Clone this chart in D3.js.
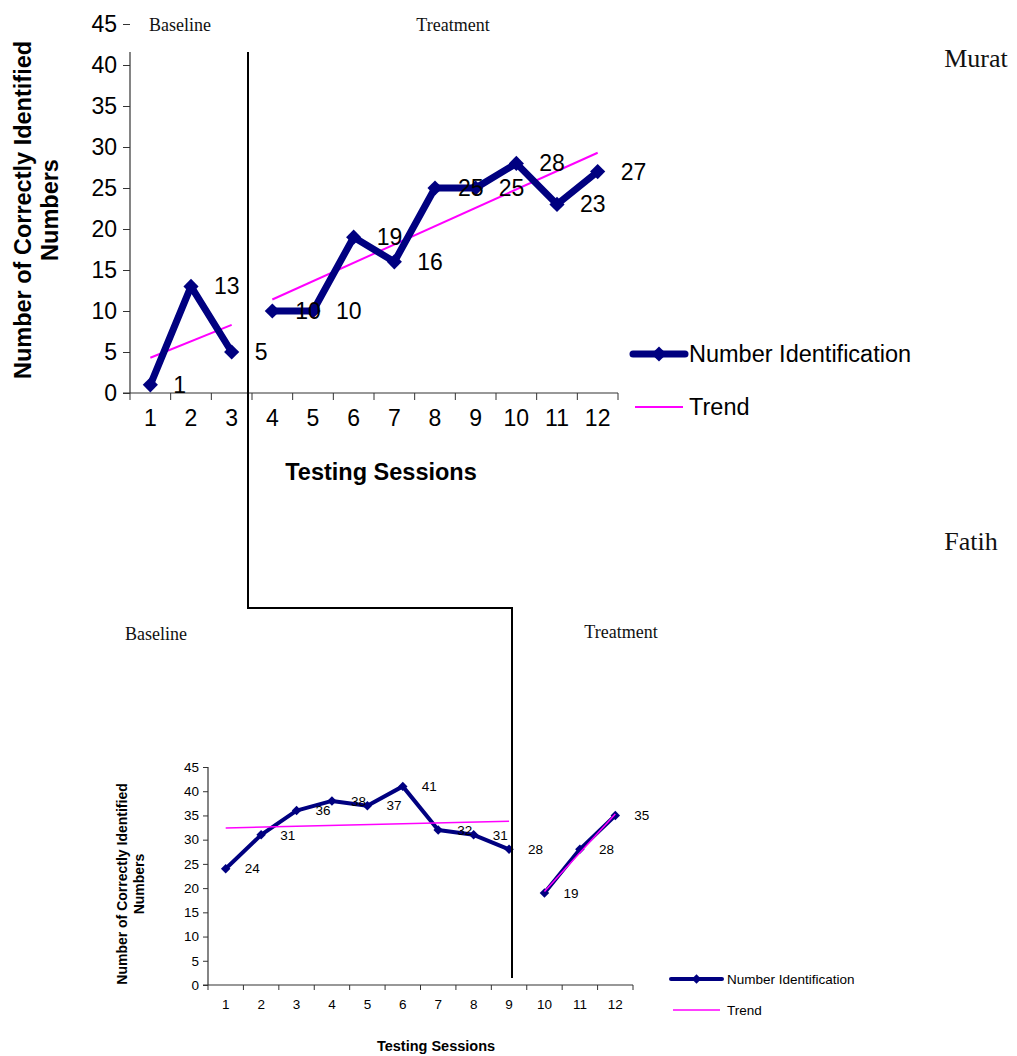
<!DOCTYPE html>
<html><head><meta charset="utf-8">
<script src="https://cdn.jsdelivr.net/npm/d3@7"></script>
<style>
html,body{margin:0;padding:0;background:#fff;}
svg{display:block;}
.sans{font-family:"Liberation Sans",Arial,sans-serif;}
.serif{font-family:"Liberation Serif","Times New Roman",serif;}
</style></head>
<body>
<svg id="c" width="1017" height="1056"></svg>
<script>
// ---- data ----
const sessions = [1,2,3,4,5,6,7,8,9,10,11,12];
const yTicks = [0,5,10,15,20,25,30,35,40,45];

// Murat (top chart)
const muratBaseSessions = [1,2,3];
const muratBaseValues = [1,13,5];
const muratTreatSessions = [4,5,6,7,8,9,10,11,12];
const muratTreatValues = [10,10,19,16,25,25,28,23,27];
const muratBaseTrendSessions = [1,3];
const muratBaseTrend = [4.3,8.3];
const muratTreatTrendSessions = [4,12];
const muratTreatTrend = [11.4,29.3];

// Fatih (bottom chart)
const fatihBaseSessions = [1,2,3,4,5,6,7,8,9];
const fatihBaseValues = [24,31,36,38,37,41,32,31,28];
const fatihTreatSessions = [10,11,12];
const fatihTreatValues = [19,28,35];
const fatihBaseTrendSessions = [1,9];
const fatihBaseTrend = [32.4,33.8];
const fatihTreatTrendSessions = [10,12];
const fatihTreatTrend = [19.3,35.3];

const NAVY = "#000080", MAG = "#FF00FF";
const svg = d3.select("#c");

function drawChart(o){
  const x = d3.scaleBand().domain(sessions).range(o.xr);
  const y = d3.scaleLinear().domain([0,45]).range(o.yr);
  const cx = s => x(s) + x.bandwidth()/2;
  const g = svg.append("g").attr("class","sans");

  // y axis
  const ya = g.append("g").attr("transform",`translate(${o.xr[0]},0)`)
    .call(d3.axisLeft(y).tickValues(o.yTickVals).tickSize(o.tick).tickPadding(o.tpad));
  ya.select(".domain").remove();
  ya.selectAll("line").attr("stroke","#333");
  ya.selectAll("text").attr("font-size",o.fs).attr("fill","#000").attr("font-family","Liberation Sans, Arial, sans-serif");
  g.append("line").attr("x1",o.xr[0]).attr("x2",o.xr[0]).attr("y1",o.yDomTop).attr("y2",o.yr[0]).attr("stroke","#333").attr("stroke-width",1.2);

  // x axis
  const xa = g.append("g").attr("transform",`translate(0,${o.yr[0]})`)
    .call(d3.axisBottom(x).tickSize(0).tickPadding(o.xpad));
  xa.select(".domain").remove();
  xa.selectAll("text").attr("font-size",o.fs).attr("fill","#000").attr("font-family","Liberation Sans, Arial, sans-serif");
  g.append("line").attr("x1",o.xr[0]-o.tick).attr("x2",o.xr[1]).attr("y1",o.yr[0]).attr("y2",o.yr[0]).attr("stroke","#333").attr("stroke-width",1.2);
  const bounds = sessions.map(s=>x(s)).concat([o.xr[1]]);
  g.selectAll(".xt").data(bounds).enter().append("line")
    .attr("x1",d=>d).attr("x2",d=>d).attr("y1",o.yr[0]).attr("y2",o.yr[0]+o.tick).attr("stroke","#333");

  const line = d3.line().x(d=>cx(d[0])).y(d=>y(d[1]));
  const drawTrends = () => o.trends.forEach(t=>{
    g.append("path").datum(t.s.map((s,i)=>[s,t.v[i]])).attr("d",line)
      .attr("fill","none").attr("stroke",MAG).attr("stroke-width",o.tw);
  });
  if(!o.trendOnTop) drawTrends();
  // series
  const diamond = d3.symbol().type(d3.symbolSquare).size(o.ms);
  o.series.forEach(sr=>{
    const pts = sr.s.map((s,i)=>[s,sr.v[i]]);
    g.append("path").datum(pts).attr("d",line).attr("fill","none").attr("stroke",NAVY)
      .attr("stroke-width",o.lw).attr("stroke-linejoin","round").attr("stroke-linecap","round");
    g.selectAll(null).data(pts).enter().append("path").attr("d",diamond)
      .attr("transform",d=>`translate(${cx(d[0])},${y(d[1])}) rotate(45)`).attr("fill",NAVY);
    g.selectAll(null).data(pts).enter().append("text")
      .attr("x",d=>cx(d[0])+o.lo).attr("y",d=>y(d[1])).attr("dy","0.35em")
      .attr("font-size",o.fs).attr("fill","#000").text(d=>d[1]);
  });
  if(o.trendOnTop) drawTrends();

  // axis titles
  g.append("text").attr("x",o.xTitle[0]).attr("y",o.xTitle[1]).attr("text-anchor","middle")
    .attr("font-weight","bold").attr("font-size",o.tfs).text("Testing Sessions");
  const yt = g.append("text").attr("transform",`translate(${o.yTitle[0]},${o.yTitle[1]}) rotate(-90)`)
    .attr("text-anchor","middle").attr("font-weight","bold").attr("font-size",o.yfs);
  yt.append("tspan").attr("x",0).attr("y",0).text(o.yLine1);
  yt.append("tspan").attr("x",0).attr("y",o.yGap).text("Numbers");

  // legend
  const L = o.leg;
  g.append("line").attr("x1",L.x1).attr("x2",L.x2).attr("y1",L.y1).attr("y2",L.y1)
    .attr("stroke",NAVY).attr("stroke-width",o.lw).attr("stroke-linecap","round");
  g.append("path").attr("d",diamond).attr("transform",`translate(${(L.x1+L.x2)/2},${L.y1}) rotate(45)`).attr("fill",NAVY);
  g.append("text").attr("x",L.tx).attr("y",L.y1).attr("dy","0.35em").attr("font-size",o.lfs).text("Number Identification");
  g.append("line").attr("x1",L.x1+2).attr("x2",L.x2-2).attr("y1",L.y2).attr("y2",L.y2)
    .attr("stroke",MAG).attr("stroke-width",o.tw);
  g.append("text").attr("x",L.tx).attr("y",L.y2).attr("dy","0.35em").attr("font-size",o.lfs).text("Trend");
  return {x,y};
}

// top chart (Murat)
drawChart({
  xr:[130,618], yr:[393,24], yDomTop:52, yTickVals:yTicks, tick:7, tpad:6, xpad:17,
  fs:23, lfs:23.5, tfs:23.5, yfs:23.5, lw:7, tw:2, ms:115, lo:23,
  series:[{s:muratBaseSessions,v:muratBaseValues},{s:muratTreatSessions,v:muratTreatValues}],
  trends:[{s:muratBaseTrendSessions,v:muratBaseTrend},{s:muratTreatTrendSessions,v:muratTreatTrend}],
  xTitle:[381,480], yTitle:[31,210], yGap:27, yLine1:"Number of Correctly  Identified",
  leg:{x1:633,x2:685,y1:354,y2:407,tx:689}
});

// bottom chart (Fatih)
drawChart({
  xr:[208,633], yr:[985,767], yDomTop:767, yTickVals:yTicks, tick:5, tpad:4, xpad:14,
  fs:13.5, lfs:13.5, tfs:14.5, yfs:14, lw:4, tw:1.5, ms:45, lo:19, trendOnTop:true,
  series:[{s:fatihBaseSessions,v:fatihBaseValues},{s:fatihTreatSessions,v:fatihTreatValues}],
  trends:[{s:fatihBaseTrendSessions,v:fatihBaseTrend},{s:fatihTreatTrendSessions,v:fatihTreatTrend}],
  xTitle:[436,1051], yTitle:[127,884], yGap:17, yLine1:"Number of Correctly Identified",
  leg:{x1:671,x2:722,y1:979,y2:1010,tx:727}
});

// phase change line
svg.append("path").attr("d","M248,52 V608 H512 V978").attr("fill","none").attr("stroke","#000").attr("stroke-width",2);

// serif annotations
const ann = [
  {t:"Baseline", x:180, y:25, fs:18},
  {t:"Treatment", x:453, y:25, fs:18},
  {t:"Murat", x:976, y:58, fs:26},
  {t:"Fatih", x:971, y:541, fs:26},
  {t:"Baseline", x:156, y:634, fs:18},
  {t:"Treatment", x:621, y:632, fs:18}
];
svg.selectAll(null).data(ann).enter().append("text").attr("class","serif")
  .attr("x",d=>d.x).attr("y",d=>d.y).attr("dy","0.35em").attr("text-anchor","middle")
  .attr("font-size",d=>d.fs).attr("fill","#111").text(d=>d.t);
</script>
</body></html>
